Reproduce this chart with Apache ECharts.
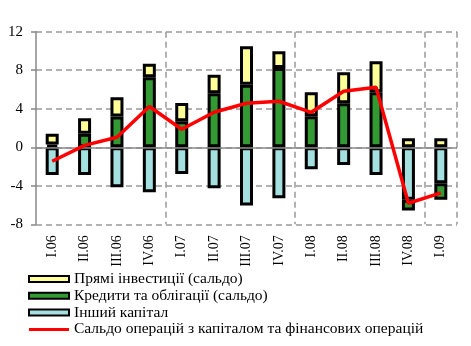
<!DOCTYPE html>
<html><head><meta charset="utf-8">
<script src="https://cdn.jsdelivr.net/npm/echarts@6/dist/echarts.min.js"></script>
<style>html,body{margin:0;padding:0;background:#fff}#c{width:471px;height:346px}</style>
</head><body><div id="c"></div>
<script>
var categories = ['I.06','II.06','III.06','IV.06','I.07','II.07','III.07','IV.07','I.08','II.08','III.08','IV.08','I.09'];
var directInvest = [1.11, 1.6, 2.0, 1.39, 1.9, 1.92, 4.0, 1.73, 2.49, 3.22, 3.22, 0.93, 0.93];
var loansBonds = [0.28, 1.4, 3.2, 7.27, 2.7, 5.6, 6.48, 8.24, 3.22, 4.57, 5.71, -1.11, -1.72];
var otherCapital = [-2.87, -2.87, -4.15, -4.67, -2.77, -4.25, -6.05, -5.3, -2.28, -1.83, -2.87, -5.46, -3.74];
var balance = [-1.45, 0.2, 1.04, 4.23, 1.87, 3.63, 4.57, 4.78, 3.63, 5.82, 6.23, -5.81, -4.74];
var yTicks = [-8, -4, 0, 4, 8, 12];

var names = ['Прямі інвестиції (сальдо)', 'Кредити та облігації (сальдо)', 'Інший капітал', 'Сальдо операцій з капіталом та фінансових операцій'];
var font = 'Liberation Serif';
var chart = echarts.init(document.getElementById('c'), null, {renderer: 'canvas'});
var barStyle = function (c) { return {color: c, borderColor: '#000', borderWidth: 3}; };
chart.setOption({
  animation: false,
  textStyle: {fontFamily: font, color: '#000'},
  grid: {left: 36, right: 14, top: 31.7, bottom: 121.7},
  legend: {
    orient: 'vertical', left: 23, top: 266, itemWidth: 40, itemHeight: 6, itemGap: 0.8,
    textStyle: {fontFamily: font, fontSize: 15.5, color: '#000', lineHeight: 15},
    data: [
      {name: names[0], icon: 'rect'},
      {name: names[1], icon: 'rect'},
      {name: names[2], icon: 'rect'},
      {name: names[3], icon: 'path://M0,0H40V0.02H0Z M0,1.6H40V4.6H0Z M0,5.98H40V6H0Z', itemStyle: {color: '#FF0000', borderWidth: 0}}
    ]
  },
  xAxis: {
    type: 'category', data: categories,
    axisLine: {show: false, onZero: false},
    axisTick: {show: false},
    axisLabel: {rotate: 90, margin: 11, fontFamily: font, fontSize: 14, color: '#000', interval: 0},
    splitLine: {show: true, interval: function (i) { return i === 4 || i === 8 || i === 12; },
      lineStyle: {color: '#999', type: [6, 4], width: 1.5}}
  },
  yAxis: {
    type: 'value', min: yTicks[0], max: yTicks[yTicks.length - 1], interval: 4,
    axisLine: {show: true, lineStyle: {color: '#888', width: 1.5}},
    axisTick: {show: true, length: 5, lineStyle: {color: '#888', width: 1.5}},
    axisLabel: {margin: 13, fontFamily: font, fontSize: 15, color: '#000'},
    splitLine: {show: true, lineStyle: {color: '#999', type: [6, 4], width: 1.5}}
  },
  series: [
    {name: names[2], type: 'bar', stack: 's', barWidth: 13, data: otherCapital, itemStyle: barStyle('#A4E0E0'),
     markLine: {silent: true, symbol: 'none', label: {show: false}, lineStyle: {color: '#888', type: 'solid', width: 1.5}, data: [{yAxis: 0}]}},
    {name: names[1], type: 'bar', stack: 's', barWidth: 13, data: loansBonds, itemStyle: barStyle('#339933')},
    {name: names[0], type: 'bar', stack: 's', barWidth: 13, data: directInvest, itemStyle: barStyle('#FFFF99')},
    {name: names[3], type: 'line', data: balance, symbol: 'none', z: 5,
     lineStyle: {color: '#FF0000', width: 3.5}, itemStyle: {color: '#FF0000'}}
  ]
});
</script></body></html>
